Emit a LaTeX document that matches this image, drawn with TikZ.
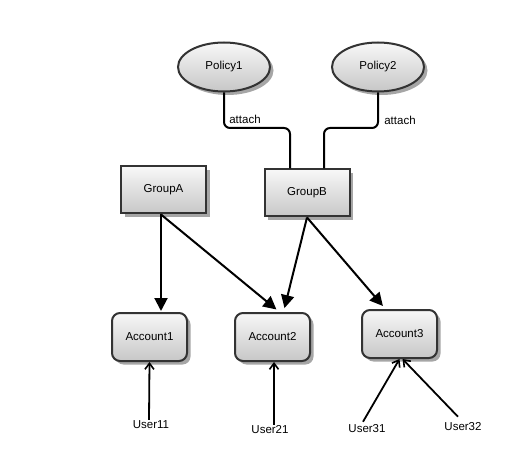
\documentclass[tikz,border=0pt]{standalone}
\usepackage{fontspec}
\setmainfont{Liberation Sans}
\usetikzlibrary{shapes.geometric,shadows,arrows.meta}
\begin{document}
\begin{tikzpicture}[x=1pt,y=-1pt,
  every node/.style={font=\fontsize{11.5}{13}\selectfont},
  base/.style={draw=black!80, line width=2pt, top color=black!3, bottom color=black!22,
    drop shadow={shadow xshift=3.5pt, shadow yshift=-3.5pt, fill=black!35, opacity=1}, inner sep=0pt},
  policy/.style={base, ellipse, minimum width=92pt, minimum height=49pt},
  group/.style={base, rectangle, minimum width=85pt, minimum height=47pt},
  account/.style={base, rectangle, rounded corners=8pt, minimum width=75pt, minimum height=48pt},
  user/.style={inner sep=1pt},
  link/.style={line width=2pt, draw=black},
  bigarrow/.style={link, -{Triangle[length=13pt,width=13pt]}},
  userarrow/.style={line width=1.8pt, -{Straight Barb[length=6pt,width=9pt,line width=1.6pt]}},
  lbl/.style={inner sep=0pt}
]
\useasboundingbox (0,0) rectangle (516,462);

\node[policy] (P1) at (224,67) {Policy1};
\node[policy] (P2) at (378,67) {Policy2};
\node[group] (GA) at (163.5,190) {GroupA};
\node[group] (GB) at (307,193) {GroupB};
\node[account] (A1) at (149.5,337) {Account1};
\node[account] (A2) at (272.5,337) {Account2};
\node[account] (A3) at (399.5,334) {Account3};
\node[user] (U11) at (151,425) {User11};
\node[user] (U21) at (270,430) {User21};
\node[user] (U31) at (367,429) {User31};
\node[user] (U32) at (463,427) {User32};

\coordinate (k1) at (257,128);
\coordinate (k2) at (350,128);
\draw[link, rounded corners=6pt] (P1.south) |- (k1) -| ([xshift=-17pt]GB.north);
\draw[link, rounded corners=6pt] (P2.south) |- (k2) -| ([xshift=17pt]GB.north);
\node[lbl] (L1) at (245,119) {attach};
\node[lbl] (L2) at (400,120) {attach};

\draw[bigarrow, shorten >=1pt] ([xshift=-2.5pt]GA.south) -- ([xshift=-2.5pt]GA.south |- A1.north);
\draw[bigarrow, shorten >=4pt] ([xshift=-2.5pt]GA.south) -- ([xshift=7pt]A2.north);
\draw[bigarrow, shorten >=4pt] (GB.south) -- ([xshift=11pt]A2.north);
\draw[bigarrow, shorten >=4pt] (GB.south) -- ([xshift=-14pt]A3.north);

\draw[userarrow] ([xshift=-2pt]U11.north) -- (A1.south);
\draw[userarrow] ([xshift=4pt]U21.north) -- ([xshift=1.5pt]A2.south);
\draw[userarrow] ([xshift=-4pt,yshift=2pt]U31.north) -- (A3.south);
\draw[userarrow] ([xshift=-5pt,yshift=5pt]U32.north) -- ([xshift=3pt]A3.south);
\end{tikzpicture}
\end{document}
